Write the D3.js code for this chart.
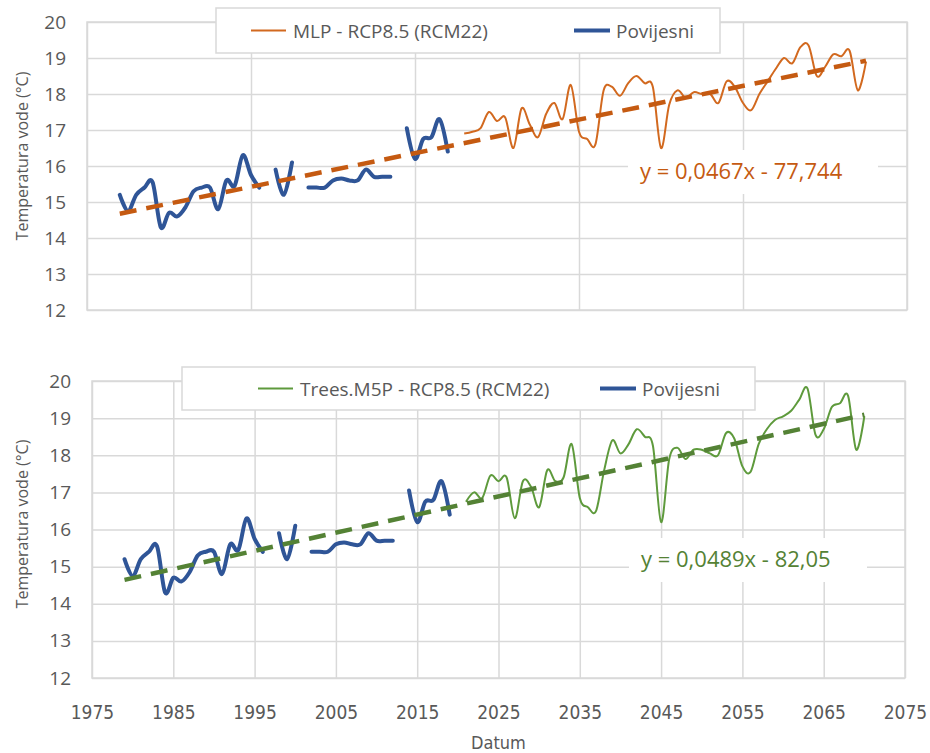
<!DOCTYPE html>
<html>
<head>
<meta charset="utf-8">
<script src="https://cdn.jsdelivr.net/npm/d3@7"></script>
<style>
  body { margin: 0; background: #fff; }
  svg { display: block; font-family: 'Open Sans', 'Noto Sans', sans-serif; }
</style>
</head>
<body>
<svg id="chart" width="930" height="753"></svg>
<script>
// historical measurements (null = missing year)
const histYears = [1979, 1980, 1981, 1982, 1983, 1984, 1985, 1986, 1987, 1988,
  1989, 1990, 1991, 1992, 1993, 1994, 1995, 1996, 1997, 1998,
  1999, 2000, 2001, 2002, 2003, 2004, 2005, 2006, 2007, 2008,
  2009, 2010, 2011, 2012, 2013, 2014, 2015, 2016, 2017, 2018, 2019];
const histValues = [15.2, 14.75, 15.2, 15.4, 15.55, 14.3, 14.7, 14.6, 14.85, 15.3,
  15.4, 15.4, 14.8, 15.6, 15.45, 16.3, 15.75, 15.4, null, 15.9,
  15.2, 16.1, null, 15.4, 15.4, 15.4, 15.6, 15.65, 15.6, 15.6,
  15.9, 15.7, 15.7, 15.7, null, 17.05, 16.2, 16.75, 16.8, 17.3, 16.4];

// projection years
const projYears = [2021, 2022, 2023, 2024, 2025, 2026, 2027, 2028, 2029, 2030,
  2031, 2032, 2033, 2034, 2035, 2036, 2037, 2038, 2039, 2040,
  2041, 2042, 2043, 2044, 2045, 2046, 2047, 2048, 2049, 2050,
  2051, 2052, 2053, 2054, 2055, 2056, 2057, 2058, 2059, 2060,
  2061, 2062, 2063, 2064, 2065, 2066, 2067, 2068, 2069, 2070];
const mlpValues = [16.9, 16.95, 17.05, 17.5, 17.25, 17.35, 16.5, 17.6, 17.15, 16.8,
  17.45, 17.75, 17.3, 18.25, 16.95, 16.75, 16.6, 18.1, 18.2, 17.95,
  18.3, 18.5, 18.3, 18.2, 16.5, 17.7, 18.1, 17.9, 18.05, 18.0,
  18.0, 17.75, 18.35, 18.2, 17.75, 17.55, 18.0, 18.35, 18.7, 19.0,
  18.85, 19.3, 19.35, 18.5, 18.75, 19.1, 19.05, 19.2, 18.1, 18.9];
const m5pValues = [16.75, 17.0, 16.85, 17.45, 17.3, 17.4, 16.3, 17.3, 17.15, 16.6,
  17.6, 17.3, 17.4, 18.3, 16.85, 16.6, 16.5, 17.6, 18.4, 18.05,
  18.3, 18.7, 18.5, 18.25, 16.2, 17.9, 18.2, 17.9, 18.15, 18.15,
  18.05, 18.0, 18.6, 18.45, 17.7, 17.55, 18.3, 18.7, 18.95, 19.05,
  19.2, 19.5, 19.8, 18.55, 18.7, 19.3, 19.4, 19.6, 18.15, 19.05];

// linear trendlines (coefficients as fitted, label as printed)
const mlpTrend = { slope: 0.0467, intercept: -77.744, label: 'y = 0,0467x - 77,744' };
const m5pTrend = { slope: 0.04886, intercept: -82.05, label: 'y = 0,0489x - 82,05' };
const trendSpan = [1979, 2070];

const yTicks = [12, 13, 14, 15, 16, 17, 18, 19, 20];
const xTicks = [1975, 1985, 1995, 2005, 2015, 2025, 2035, 2045, 2055, 2065, 2075];

const svg = d3.select('#chart');
const gridColor = '#d9d9d9';
const histColor = '#2f5597';
const textColor = '#595959';

function drawPanel(p) {
  const x = d3.scaleLinear().domain([1975, 2075]).range([p.left, p.right]);
  const y = d3.scaleLinear().domain([12, 20]).range([p.bottom, p.top]);
  const g = svg.append('g');

  // grid
  g.append('g')
    .attr('transform', `translate(0,${p.bottom})`)
    .call(d3.axisBottom(x).tickValues(p.gridYears).tickSize(p.top - p.bottom).tickFormat(''))
    .call(s => s.select('.domain').remove())
    .call(s => s.selectAll('.tick line').attr('stroke', gridColor).attr('stroke-width', 1.5));
  g.append('g')
    .attr('transform', `translate(${p.left},0)`)
    .call(d3.axisLeft(y).tickValues(yTicks).tickSize(p.left - p.right).tickFormat(''))
    .call(s => s.select('.domain').remove())
    .call(s => s.selectAll('.tick line').attr('stroke', gridColor).attr('stroke-width', 1.5));
  g.append('rect')
    .attr('x', p.left).attr('y', p.top)
    .attr('width', p.right - p.left).attr('height', p.bottom - p.top)
    .attr('fill', 'none').attr('stroke', gridColor).attr('stroke-width', 1.5);

  // y tick labels
  g.append('g')
    .attr('transform', `translate(${p.left},0)`)
    .call(d3.axisLeft(y).tickValues(yTicks).tickSize(0).tickPadding(p.left - p.labelRight))
    .call(s => s.select('.domain').remove())
    .call(s => s.selectAll('text').attr('fill', textColor).style('font-size', '19px')
      .style('font-family', "'Open Sans', sans-serif"));

  g.append('text')
    .attr('transform', `translate(28,${p.titleY}) rotate(-90)`)
    .attr('text-anchor', 'middle')
    .attr('fill', textColor)
    .style('font-size', '16px')
    .text('Temperatura vode (°C)');

  if (p.showX) {
    g.append('g')
      .attr('transform', `translate(0,${p.bottom})`)
      .call(d3.axisBottom(x).tickValues(xTicks).tickSize(0).tickPadding(28).tickFormat(d3.format('d')))
      .call(s => s.select('.domain').remove())
      .call(s => s.selectAll('text').attr('fill', textColor).style('font-size', '19px')
        .style('font-family', "'DejaVu Sans Condensed', 'Liberation Sans Narrow', sans-serif"));
    g.append('text')
      .attr('x', (p.left + p.right) / 2).attr('y', 749)
      .attr('text-anchor', 'middle').attr('fill', textColor)
      .style('font-size', '18px')
      .style('font-family', "'DejaVu Sans Condensed', sans-serif")
      .text('Datum');
  }

  const curve = d3.curveCardinal.tension(0);

  // projection
  const proj = projYears.map((yr, i) => ({ yr, v: p.values[i] }));
  g.append('path')
    .datum(proj)
    .attr('fill', 'none')
    .attr('stroke', p.color)
    .attr('stroke-width', 2)
    .attr('d', d3.line().x(d => x(d.yr)).y(d => y(d.v)).curve(curve));

  // historical
  const hist = histYears.map((yr, i) => ({ yr, v: histValues[i] }));
  g.append('path')
    .datum(hist)
    .attr('fill', 'none')
    .attr('stroke', histColor)
    .attr('stroke-width', 4)
    .attr('stroke-linejoin', 'round')
    .attr('stroke-linecap', 'round')
    .attr('d', d3.line().defined(d => d.v != null).x(d => x(d.yr)).y(d => y(d.v)).curve(curve));

  // trendline
  const t = p.trend;
  g.append('path')
    .datum(trendSpan.map(yr => ({ yr, v: t.slope * yr + t.intercept })))
    .attr('fill', 'none')
    .attr('stroke', p.trendColor)
    .attr('stroke-width', 4.5)
    .attr('stroke-dasharray', '17,10')
    .attr('d', d3.line().x(d => x(d.yr)).y(d => y(d.v)));

  // equation label
  const lbl = p.eq;
  g.append('rect')
    .attr('x', lbl.x - 12).attr('y', lbl.y - 29)
    .attr('width', lbl.w).attr('height', 44)
    .attr('fill', '#fff');
  g.append('text')
    .attr('x', lbl.x).attr('y', lbl.y)
    .attr('fill', p.trendColor)
    .style('font-size', '22px')
    .text(t.label);

  // legend
  const lg = p.legend;
  const leg = g.append('g');
  leg.append('rect')
    .attr('x', lg.x).attr('y', lg.y).attr('width', lg.w).attr('height', lg.h)
    .attr('fill', '#fff').attr('stroke', gridColor).attr('stroke-width', 1.5);
  const cy = lg.y + lg.h / 2;
  leg.append('line').attr('x1', lg.s1).attr('x2', lg.s1 + 35).attr('y1', cy).attr('y2', cy)
    .attr('stroke', p.color).attr('stroke-width', 2);
  leg.append('text').attr('x', lg.s1 + 42).attr('y', cy + 7)
    .attr('fill', textColor).style('font-size', '19px').text(p.name);
  leg.append('line').attr('x1', lg.s2).attr('x2', lg.s2 + 36).attr('y1', cy).attr('y2', cy)
    .attr('stroke', histColor).attr('stroke-width', 4);
  leg.append('text').attr('x', lg.s2 + 42).attr('y', cy + 7)
    .attr('fill', textColor).style('font-size', '19px').text('Povijesni');
}

drawPanel({
  left: 87, right: 907, top: 22, bottom: 310, labelRight: 66, titleY: 156,
  gridYears: [1975, 1995, 2015, 2035, 2055, 2075],
  values: mlpValues, color: '#d2691f', trendColor: '#c55a11',
  trend: mlpTrend, name: 'MLP - RCP8.5 (RCM22)',
  eq: { x: 640, y: 179, w: 250 },
  legend: { x: 216, y: 8, w: 504, h: 45, s1: 251, s2: 574 },
  showX: false
});

drawPanel({
  left: 92, right: 905, top: 381, bottom: 678, labelRight: 71, titleY: 524,
  gridYears: xTicks,
  values: m5pValues, color: '#5e9a3c', trendColor: '#548235',
  trend: m5pTrend, name: 'Trees.M5P - RCP8.5 (RCM22)',
  eq: { x: 641, y: 567, w: 238 },
  legend: { x: 182, y: 367, w: 573, h: 43, s1: 258, s2: 600 },
  showX: true
});
</script>
</body>
</html>
